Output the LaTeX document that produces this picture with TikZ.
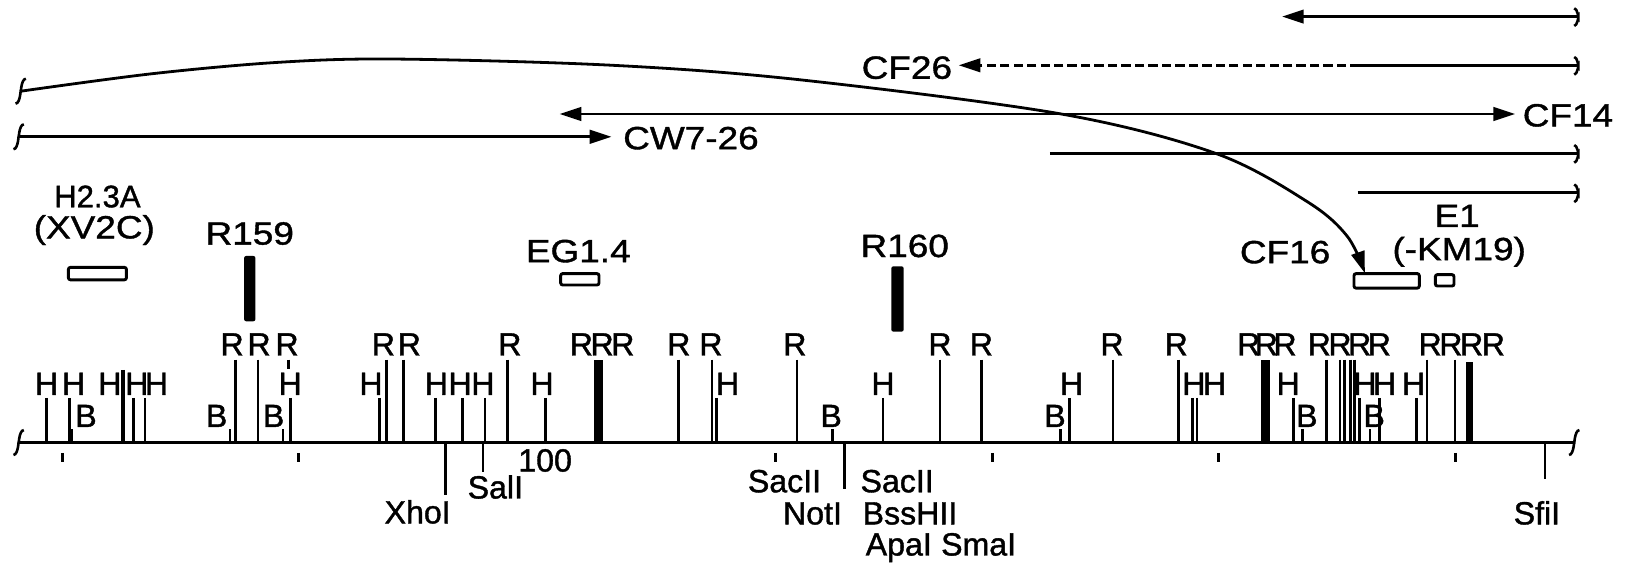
\documentclass[tikz,border=0pt]{standalone}
\usepackage{fontspec}
\setmainfont{Liberation Sans}[FakeBold=1.2]
\newfontfamily\widefont{Liberation Sans}[FakeStretch=1.15,FakeBold=1.2]
\usetikzlibrary{arrows.meta}
\begin{document}
\begin{tikzpicture}[x=1pt,y=-1pt,line width=2.7pt,
  lab/.style={inner sep=0pt,font=\widefont\fontsize{31}{32}\selectfont,anchor=base},
  enz/.style={inner sep=0pt,font=\fontsize{31}{32}\selectfont,anchor=base},
  tip/.style={-{Triangle[length=21pt,width=13pt]}},
  tipboth/.style={{Triangle[length=21pt,width=13pt]}-{Triangle[length=21pt,width=13pt]}},
  probe/.style={draw,line width=2.8pt,rounded corners=2pt,inner sep=0pt},
  bar/.style={fill=black,rounded corners=2pt,inner sep=0pt},
  squig/.pic={\draw[line width=2.5pt] (-5,12) to[out=0,in=90] (0,0) to[out=-90,in=180] (5,-12);},
  endmark/.pic={\draw[line width=2.5pt] (-3,-8) to[out=0,in=-90] (1,-1) -- (1,2) to[out=90,in=0] (-3,9);}
]
\useasboundingbox (0,0) rectangle (1568,556);

% ---------------- top clone lines ----------------
% row 1
\coordinate (a1) at (1237,16);
\coordinate (b1) at (1522,16);
\draw[tip] (b1) -- (a1);
\pic at (b1) {endmark};
% row 2 CF26
\node[lab,anchor=base east] (cf26) at (920,76) {CF26};
\coordinate (a2) at (925,63);
\coordinate (m2) at (1312,63);
\coordinate (b2) at (1522,63);
\draw[tip,dash pattern=on 9pt off 4pt] (m2) -- (a2);
\draw (m2) -- (b2);
\pic at (b2) {endmark};
% row 3 CF14
\node[lab,anchor=base west] (cf14) at (1468,122) {CF14};
\coordinate (a3) at (540,110);
\coordinate (b3) at (1462,110);
\draw[tipboth] (a3) -- (b3);
% row 4 CW7-26
\node[lab,anchor=base west] (cw) at (600,144) {CW7-26};
\coordinate (a4) at (18,132);
\coordinate (b4) at (590,132);
\draw[tip] (a4) -- (b4);
\pic at (a4) {squig};
% row 5
\coordinate (a5) at (1013,148);
\coordinate (b5) at (1522,148);
\draw (a5) -- (b5);
\pic at (b5) {endmark};
% row 6
\coordinate (a6) at (1310,186);
\coordinate (b6) at (1522,186);
\draw (a6) -- (b6);
\pic at (b6) {endmark};

% ---------------- probes ----------------
\node[enz,font=\fontsize{30}{31}\selectfont] (h23) at (94,200) {H2.3A};
\node[lab] (xv2c) at (91,230) {(XV2C)};
\node[probe,minimum width=56pt,minimum height=12pt] (bh23) at (94,264) {};

\node[lab] (r159) at (241,236) {R159};
\node[bar,minimum width=11pt,minimum height=63pt] (br159) at (241,278.5) {};

\node[lab] (eg14) at (558,253) {EG1.4};
\node[probe,minimum width=37pt,minimum height=11pt] (beg) at (559.5,269.5) {};

\node[lab] (r160) at (873,248) {R160};
\node[bar,minimum width=12pt,minimum height=63pt] (br160) at (866,288.5) {};

\node[lab] (cf16) at (1240,254) {CF16};
\node[probe,minimum width=63pt,minimum height=14pt] (bcf16) at (1338,271) {};

\node[lab] (e1) at (1406,219) {E1};
\node[lab] (km19) at (1408,251) {(-KM19)};
\node[probe,minimum width=18pt,minimum height=11pt] (be1) at (1394,270.5) {};

% big curved arrow
\coordinate (c0) at (20,88);
\coordinate (c9) at ([xshift=-21pt,yshift=-1pt]bcf16.north);
\draw[tip] plot[smooth,tension=0.55] coordinates {(c0) (148,71) (271,60) (384,57) (591,63) (772,77) (1024,110) (1173,148) (1262,195) (1300,228) (c9)};
\pic at (c0) {squig};

% ---------------- main axis ----------------
\coordinate (ax0) at (18,427);
\coordinate (ax1) at (1519,427);
\draw[line width=3.3pt] (ax0) -- (ax1);
\pic at (ax0) {squig};
\pic at (ax1) {squig};

% scale ticks below axis
\foreach \x in {60,288,748,958,1176,1404}
  \draw[line width=2.8pt] (\x,437) -- (\x,446);

% R sites
\foreach \x in {227,249,373,389,490,655,687,769,907,947,1074,1137,1280,1293,1297,1303,1307,1377,1404}
  \draw (\x,347) -- (\x,427);
\draw (278,347) -- (278,356);
\fill (573.5,347) rectangle (582,427);
\fill (1217,347) rectangle (1225,427);
\fill (1415,349) rectangle (1421,427);
\foreach \x [count=\i] in {224,250,277,370,395,492,561,581,601,655,686,767,907,947,1073,1135,1205,1222,1240,1273,1293,1312,1331,1380,1400,1420,1441}
  \node[enz] (R\i) at (\x,343) {R};

% H sites
\foreach \x in {45,67,129,140,280,366,420,446,468,526,691,852,1032,1151,1155,1248,1312,1331,1367}
  \draw (\x,384) -- (\x,427);
\draw[line width=4pt] (119,357) -- (119,427);
\foreach \x [count=\i] in {45,71,106,132,151,280,358,421,444,466,523,702,852,1034,1152,1172,1243,1317,1336,1364}
  \node[enz] (H\i) at (\x,381) {H};

% B sites
\foreach \x in {69,222,273,803,1023,1257,1322}
  \draw (\x,414) -- (\x,427);
\foreach \x [count=\i] in {83,209,264,802,1018,1261,1326}
  \node[enz] (B\i) at (\x,412) {B};

% ---------------- unique sites below ----------------
\coordinate (xh) at (430,427);
\draw[line width=2.2pt] (xh) -- (430,478);
\node[enz] (xho) at (403,505) {XhoI};
\coordinate (sa) at (466,427);
\draw[line width=2.2pt] (sa) -- (466,455);
\node[enz] (sal) at (478,481) {SalI};
\node[enz] (hund) at (526,455) {100};
\node[enz] (sac1) at (757,475) {SacII};
\coordinate (no) at (815,427);
\draw[line width=2.2pt] (no) -- (815,472);
\node[enz] (not) at (784,506) {NotI};
\node[enz,anchor=base west] (sac2) at (829,475) {SacII};
\node[enz,anchor=base west] (bss) at (831,506) {BssHII};
\node[enz,anchor=base west] (apa) at (834,536) {ApaI\hspace{9pt}SmaI};
\coordinate (sf) at (1491,427);
\draw[line width=2.2pt] (sf) -- (1491,462);
\node[enz] (sfi) at (1483,506) {SfiI};
\end{tikzpicture}
\end{document}
